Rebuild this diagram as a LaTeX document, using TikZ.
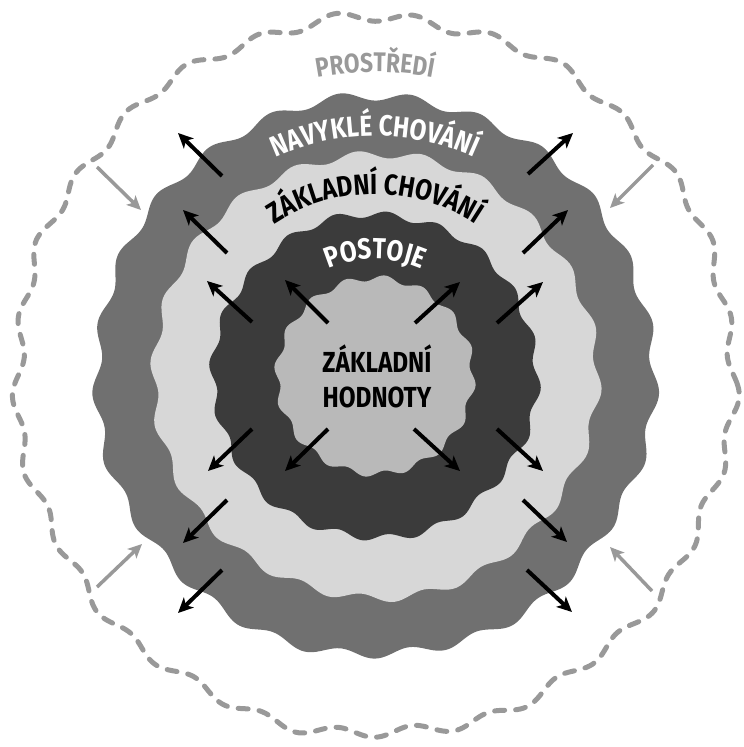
\documentclass[tikz,border=0pt]{standalone}
\usepackage{fontspec}
\newfontfamily\labfont{Fira Sans}[FakeStretch=0.84]
\usetikzlibrary{decorations.text,arrows.meta}
\definecolor{ringA}{HTML}{707070}
\definecolor{ringB}{HTML}{D7D7D7}
\definecolor{ringC}{HTML}{3B3B3B}
\definecolor{ringD}{HTML}{B9B9B9}
\definecolor{envgray}{HTML}{999999}
\begin{document}
\begin{tikzpicture}[x=1pt,y=-1pt,
  blk/.style={line width=4pt,-{Stealth[length=15pt,width=14pt,inset=4pt]}},
  gry/.style={line width=3.5pt,draw=envgray,-{Stealth[length=14pt,width=13pt,inset=3.5pt]}},
  envline/.style={draw=envgray,line width=5pt,dash pattern=on 10pt off 11pt,line cap=round},
  lab/.style={font=\labfont\bfseries\fontsize{29}{35}\selectfont}]
\useasboundingbox (0,0) rectangle (744,747);
\begin{scope}[shift={(375,376)}]
  \draw[envline] plot[smooth cycle, domain=0:359, samples=360] (\x:{358+5*sin(29*\x)+2*sin(11*\x+30)});
  \fill[ringA] plot[smooth cycle, domain=0:359, samples=360] (\x:{279+4.5*sin(25*\x)+1.2*sin(7*\x+40)});
  \fill[ringB] plot[smooth cycle, domain=0:359, samples=360] (\x:{222+4*sin(22*\x+10)+1*sin(5*\x+70)});
  \fill[ringC] plot[smooth cycle, domain=0:359, samples=360] (\x:{162+3.5*sin(20*\x+5)+1*sin(6*\x+20)});
  \fill[ringD] plot[smooth cycle, domain=0:359, samples=360] (\x:{98+3*sin(16*\x)});
  \path[decorate, decoration={text along path, text align=center,
    text={|\labfont\bfseries\fontsize{27}{27}\selectfont\color{envgray}|PROSTŘEDÍ}}]
    (180:304) arc[start angle=180, end angle=360, radius=304];
  \path[decorate, decoration={text along path, text align=center,
    text={|\labfont\bfseries\fontsize{29}{29}\selectfont\color{white}|NAVYKLÉ CHOVÁNÍ}}]
    (180:240) arc[start angle=180, end angle=360, radius=240];
  \path[decorate, decoration={text along path, text align=center,
    text={|\labfont\bfseries\fontsize{29}{29}\selectfont\color{black}|ZÁKLADNÍ CHOVÁNÍ}}]
    (180:182) arc[start angle=180, end angle=360, radius=182];
  \path[decorate, decoration={text along path, text align=center,
    text={|\labfont\bfseries\fontsize{29}{29}\selectfont\color{white}|POSTOJE}}]
    (180:117) arc[start angle=180, end angle=360, radius=117];
\end{scope}
\node[lab, align=center, inner sep=0pt] (core) at (377,376) {ZÁKLADNÍ\\HODNOTY};
% black arrows
\foreach \ax/\ay/\bx/\by [count=\i] in {
  328/323/285/280, 252/322/207/281, 227/253/183/210, 222/176/178/133,
  415/323/460/282, 497/323/543/282, 523/253/568/210, 528/174/573/133,
  328/429/285/471, 252/429/208/471, 227/500/183/543, 222/570/178/613,
  414/429/460/471, 497/429/543/471, 523/500/567/542, 527/570/572/612}{
  \coordinate (ta\i) at (\ax,\ay); \coordinate (ha\i) at (\bx,\by);
  \draw[blk] (ta\i) -- (ha\i);
}
% gray arrows from the environment
\foreach \ax/\ay/\bx/\by [count=\i] in {
  97/167/141/210, 653/165/610/208, 97/587/142/544, 652/591/610/547}{
  \coordinate (gt\i) at (\ax,\ay); \coordinate (gh\i) at (\bx,\by);
  \draw[gry] (gt\i) -- (gh\i);
}
\end{tikzpicture}
\end{document}
